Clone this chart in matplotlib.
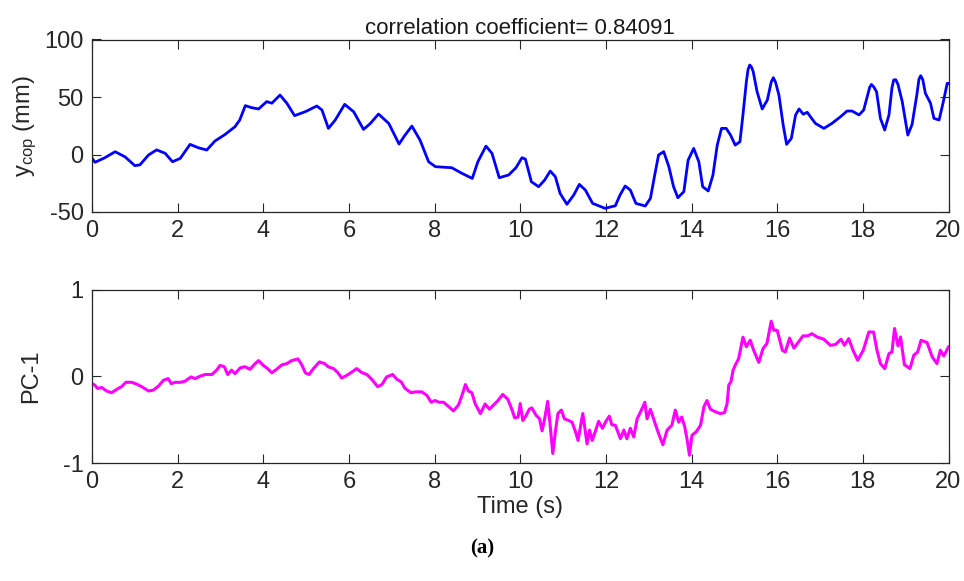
import matplotlib
matplotlib.use("Agg")
import matplotlib.pyplot as plt
from matplotlib import font_manager

# ---------------- data ----------------
t_cop = [0.0, 0.07, 0.3, 0.54, 0.77, 1.0, 1.12, 1.32, 1.51, 1.71, 1.88, 2.06, 2.29, 2.48, 2.68,
         2.87, 3.11, 3.34, 3.45, 3.58, 3.73, 3.89, 4.08, 4.2, 4.39, 4.55, 4.73, 4.98, 5.25, 5.37,
         5.52, 5.68, 5.9, 6.11, 6.34, 6.5, 6.69, 6.93, 7.17, 7.31, 7.47, 7.66, 7.86, 8.02, 8.4,
         8.64, 8.88, 9.01, 9.2, 9.34, 9.51, 9.73, 9.9, 10.04, 10.12, 10.26, 10.43, 10.57, 10.7,
         10.82, 10.93, 11.09, 11.25, 11.38, 11.52, 11.69, 11.98, 12.22, 12.33, 12.45, 12.57,
         12.7, 12.92, 13.04, 13.14, 13.23, 13.35, 13.47, 13.58, 13.68, 13.82, 13.92, 14.05,
         14.17, 14.26, 14.39, 14.5, 14.6, 14.7, 14.81, 14.91, 15.02, 15.13, 15.2, 15.28, 15.32,
         15.36, 15.40, 15.44, 15.53, 15.65, 15.77, 15.86, 15.91, 15.96, 16.04, 16.14, 16.22,
         16.33, 16.43, 16.51, 16.61, 16.7, 16.89, 17.09, 17.28, 17.48, 17.63, 17.75, 17.91,
         18.02, 18.1, 18.16, 18.2, 18.25, 18.32, 18.41, 18.51, 18.61, 18.68, 18.72, 18.77,
         18.82, 18.92, 19.05, 19.15, 19.26, 19.31, 19.35, 19.40, 19.46, 19.58, 19.66, 19.78,
         19.88, 19.97, 20.0]
y_cop = [-3.0, -6.8, -2.8, 2.4, -2.0, -9.7, -9.0, -0.4, 4.0, 1.0, -6.3, -3.4, 8.8, 5.9, 3.9,
         11.7, 17.5, 24.2, 30.0, 42.5, 40.7, 39.6, 46.0, 44.6, 51.7, 44.6, 33.8, 37.2, 42.2, 38.7,
         22.7, 30.0, 43.6, 37.2, 21.8, 27.0, 35.2, 27.0, 9.1, 16.9, 24.7, 12.5, -6.3, -10.6, -11.5,
         -16.4, -20.8, -6.3, 7.3, 1.0, -20.2, -17.8, -11.5, -2.8, -4.0, -23.7, -28.0, -22.2, -14.4,
         -19.3, -33.8, -43.3, -35.2, -26.0, -30.9, -42.5, -46.8, -44.6, -35.2, -27.4, -30.9,
         -42.5, -44.8, -38.1, -17.8, -0.4, 2.5, -10.6, -28.0, -37.6, -32.3, -4.9, 5.3,
         -6.3, -28.0, -31.7, -17.8, 8.2, 22.7, 22.7, 16.9, 8.2, 11.1, 34.4, 63.3, 74.0,
         77.8, 76.0, 72.0, 54.6, 39.6, 47.4, 63.0, 66.8, 63.0, 51.7, 25.6, 8.8,
         14.0, 34.4, 39.6, 35.0, 36.7, 27.1, 22.7, 27.1, 32.9, 37.8, 37.8, 34.4,
         38.7, 50.2, 58.5, 60.9, 59.0, 54.6, 31.4, 21.3, 34.4, 58.0, 64.8, 65.0,
         61.0, 46.0, 16.9, 26.2, 51.7, 65.5, 68.5, 65.0, 53.2, 44.6, 31.4, 30.0,
         46.0, 61.9, 61.9]

t_pc = [0.0, 0.06, 0.13, 0.23, 0.34, 0.46, 0.58, 0.69, 0.79, 0.93, 1.04, 1.16, 1.32, 1.43, 1.55,
        1.67, 1.78, 1.85, 1.94, 2.06, 2.17, 2.31, 2.41, 2.52, 2.64, 2.8, 2.91, 2.99, 3.09, 3.17,
        3.26, 3.34, 3.46, 3.57, 3.69, 3.81, 3.89, 4.0, 4.1, 4.2, 4.31, 4.43, 4.55, 4.66, 4.81,
        4.9, 4.98, 5.07, 5.17, 5.31, 5.43, 5.52, 5.64, 5.74, 5.83, 5.93, 6.05, 6.18, 6.3, 6.42,
        6.55, 6.67, 6.77, 6.88, 7.02, 7.12, 7.22, 7.31, 7.45, 7.56, 7.7, 7.82, 7.92, 8.01, 8.11,
        8.21, 8.33, 8.44, 8.56, 8.64, 8.72, 8.79, 8.87, 8.95, 9.07, 9.18, 9.28, 9.38, 9.48, 9.59,
        9.71, 9.81, 9.87, 9.95, 10.0, 10.06, 10.13, 10.21, 10.27, 10.37, 10.45, 10.51, 10.57,
        10.64, 10.69, 10.76, 10.82, 10.88, 10.96, 11.03, 11.13, 11.21, 11.29, 11.35, 11.4, 11.46,
        11.5, 11.56, 11.62, 11.68, 11.75, 11.83, 11.92, 12.0, 12.08, 12.14, 12.22, 12.34, 12.42,
        12.49, 12.57, 12.65, 12.73, 12.81, 12.91, 12.96, 13.04, 13.14, 13.23, 13.33, 13.43,
        13.54, 13.62, 13.7, 13.77, 13.84, 13.9, 13.95, 14.01, 14.11, 14.21, 14.29, 14.36, 14.44,
        14.56, 14.67, 14.77, 14.83, 14.87, 14.92, 14.97, 15.02, 15.1, 15.2, 15.28, 15.37, 15.45,
        15.57, 15.67, 15.76, 15.86, 15.92, 16.0, 16.12, 16.19, 16.29, 16.39, 16.5, 16.6, 16.71,
        16.81, 16.93, 17.09, 17.24, 17.36, 17.49, 17.57, 17.67, 17.77, 17.88, 18.01, 18.14,
        18.25, 18.33, 18.41, 18.51, 18.61, 18.68, 18.74, 18.82, 18.88, 18.97, 19.1, 19.19,
        19.28, 19.36, 19.5, 19.62, 19.73, 19.81, 19.89, 20.0]
pc1 = [-0.085, -0.1, -0.14, -0.13, -0.17, -0.19, -0.15, -0.12, -0.07, -0.07, -0.09, -0.12, -0.17,
       -0.16, -0.115, -0.046, -0.027, -0.085, -0.07, -0.07, -0.058, -0.008, -0.027, 0.0, 0.02,
       0.02, 0.07, 0.125, 0.11, 0.02, 0.07, 0.03, 0.096, 0.11, 0.08, 0.146, 0.18, 0.125, 0.088,
       0.04, 0.08, 0.13, 0.146, 0.18, 0.2, 0.13, 0.04, 0.02, 0.088, 0.165, 0.146, 0.108, 0.088,
       0.042, -0.02, 0.004, 0.042, 0.088, 0.042, 0.02, -0.046, -0.12, -0.096, -0.008, 0.02,
       -0.035, -0.065, -0.14, -0.19, -0.18, -0.18, -0.22, -0.3, -0.28, -0.3, -0.3, -0.35, -0.4,
       -0.33, -0.22, -0.096, -0.17, -0.19, -0.32, -0.43, -0.32, -0.38, -0.33, -0.28, -0.21,
       -0.265, -0.39, -0.48, -0.47, -0.315, -0.51, -0.46, -0.38, -0.365, -0.45, -0.49, -0.63,
       -0.49, -0.29, -0.52, -0.89, -0.64, -0.43, -0.39, -0.49, -0.51, -0.53, -0.64, -0.74, -0.6,
       -0.43, -0.565, -0.78, -0.62, -0.74, -0.64, -0.52, -0.6, -0.52, -0.46, -0.56, -0.565,
       -0.72, -0.62, -0.72, -0.6, -0.7, -0.49, -0.41, -0.3, -0.49, -0.38, -0.53, -0.66, -0.79,
       -0.62, -0.565, -0.39, -0.53, -0.47, -0.58, -0.74, -0.91, -0.68, -0.64, -0.565, -0.35,
       -0.28, -0.38, -0.41, -0.43, -0.42, -0.315, -0.1, -0.065, 0.07, 0.127, 0.204, 0.45, 0.34,
       0.415, 0.3, 0.16, 0.32, 0.377, 0.634, 0.53, 0.53, 0.3, 0.28, 0.44, 0.325, 0.396, 0.465,
       0.465, 0.49, 0.453, 0.427, 0.357, 0.365, 0.427, 0.357, 0.434, 0.3, 0.184, 0.3, 0.51,
       0.51, 0.3, 0.146, 0.088, 0.26, 0.28, 0.55, 0.35, 0.453, 0.134, 0.088, 0.242, 0.28,
       0.415, 0.388, 0.223, 0.146, 0.3, 0.234, 0.338]

title_text = "correlation coefficient= 0.84091"
x_ticks = [0, 2, 4, 6, 8, 10, 12, 14, 16, 18, 20]
top_yticks = [-50, 0, 50, 100]
bot_yticks = [-1, 0, 1]

# ---------------- style ----------------
names = {f.name for f in font_manager.fontManager.ttflist}
fam = "Liberation Sans Narrow" if "Liberation Sans Narrow" in names else "Liberation Sans"
plt.rcParams["font.family"] = [fam, "DejaVu Sans"]
plt.rcParams["mathtext.fontset"] = "custom"
plt.rcParams["mathtext.rm"] = fam
plt.rcParams["mathtext.it"] = fam
plt.rcParams["axes.unicode_minus"] = False

W, H = 964, 581
fig = plt.figure(figsize=(W / 100, H / 100), dpi=100)

ax1 = fig.add_axes([92 / W, (H - 212) / H, 856.5 / W, 172.5 / H])
ax2 = fig.add_axes([92 / W, (H - 463) / H, 856.5 / W, 173.5 / H])

ax1.plot(t_cop, y_cop, color="#0000ff", lw=2.0, solid_joinstyle="round")
ax2.plot(t_pc, pc1, color="#ff00ff", lw=2.2, solid_joinstyle="round")

for ax in (ax1, ax2):
    ax.set_xlim(0, 20)
    ax.set_xticks(x_ticks)
    ax.tick_params(direction="in", length=6.5, width=0.8, top=True, right=True,
                   labelsize=17, colors="#262626", pad=6)
    for s in ax.spines.values():
        s.set_linewidth(0.9)
        s.set_color("#262626")

ax1.set_ylim(-50, 100)
ax1.set_yticks(top_yticks)
ax2.set_ylim(-1, 1)
ax2.set_yticks(bot_yticks)

ax1.set_title(title_text, fontsize=16, color="#1a1a1a", pad=4)
ax1.set_ylabel(r"y$_{\rm cop}$ (mm)", fontsize=17, color="#262626", labelpad=4)
ax2.set_ylabel("PC-1", fontsize=17, color="#262626", labelpad=15)
ax2.set_xlabel("Time (s)", fontsize=17, color="#262626", labelpad=2)

fig.text(0.5, (H - 548) / H, "(a)", ha="center", va="center", fontsize=15,
         fontweight="bold", family=["Liberation Serif", "DejaVu Serif"])

fig.savefig("out.png", dpi=100)
